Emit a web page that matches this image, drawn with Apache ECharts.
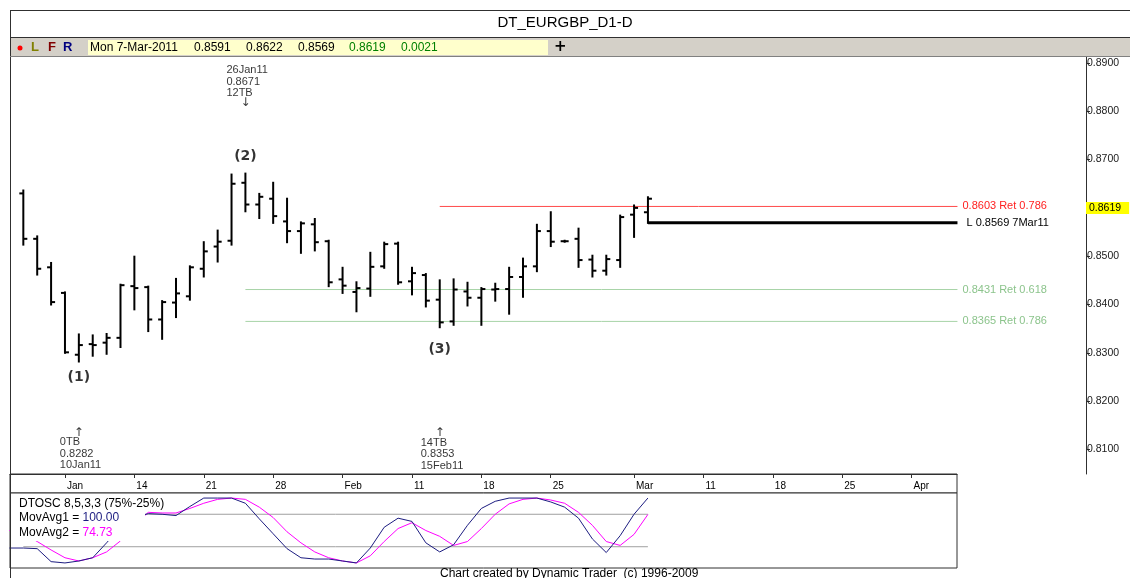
<!DOCTYPE html>
<html>
<head>
<meta charset="utf-8">
<title>DT_EURGBP_D1-D</title>
<script src="https://cdn.jsdelivr.net/npm/echarts@6/dist/echarts.min.js"></script>
<style>
html, body { margin: 0; padding: 0; background: #fff; }
#main { width: 1130px; height: 578px; }
</style>
</head>
<body>
<div id="main"></div>
<script>
// daily bars, index 0 = 4-Jan-2011 ... 45 = 7-Mar-2011
var opens  = [0.8630,0.8536,0.8477,0.8424,0.8296,0.8318,0.8321,0.8331,0.8438,0.8436,
              0.8369,0.8404,0.8417,0.8474,0.8520,0.8532,0.8652,0.8607,0.8619,0.8572,
              0.8552,0.8566,0.8531,0.8452,0.8426,0.8433,0.8479,0.8526,0.8448,0.8461,
              0.8410,0.8365,0.8427,0.8414,0.8431,0.8432,0.8457,0.8479,0.8552,0.8531,
              0.8536,0.8493,0.8470,0.8492,0.8586,0.8591];
var highs  = [0.8636,0.8541,0.8486,0.8425,0.8338,0.8336,0.8339,0.8441,0.8499,0.8437,
              0.8407,0.8453,0.8479,0.8529,0.8553,0.8669,0.8671,0.8629,0.8652,0.8619,
              0.8570,0.8577,0.8532,0.8476,0.8446,0.8507,0.8528,0.8528,0.8476,0.8463,
              0.8450,0.8452,0.8445,0.8434,0.8443,0.8476,0.8495,0.8565,0.8591,0.8532,
              0.8557,0.8501,0.8501,0.8584,0.8605,0.8622];
var lows   = [0.8524,0.8462,0.8400,0.8300,0.8282,0.8294,0.8298,0.8312,0.8390,0.8345,
              0.8329,0.8374,0.8410,0.8458,0.8489,0.8524,0.8593,0.8579,0.8569,0.8529,
              0.8507,0.8512,0.8438,0.8424,0.8386,0.8418,0.8476,0.8443,0.8421,0.8396,
              0.8353,0.8358,0.8398,0.8358,0.8408,0.8381,0.8416,0.8469,0.8521,0.8530,
              0.8478,0.8458,0.8462,0.8478,0.8540,0.8569];
var closes = [0.8536,0.8474,0.8405,0.8301,0.8316,0.8316,0.8331,0.8440,0.8434,0.8369,
              0.8405,0.8423,0.8477,0.8510,0.8530,0.8650,0.8607,0.8623,0.8583,0.8552,
              0.8568,0.8529,0.8446,0.8439,0.8434,0.8478,0.8525,0.8446,0.8465,0.8408,
              0.8363,0.8431,0.8414,0.8432,0.8432,0.8457,0.8479,0.8552,0.8530,0.8531,
              0.8492,0.8470,0.8494,0.8581,0.8600,0.8619];

// DTOSC 8,5,3,3 - from bar -1 (3-Jan) to bar 45
var movAvg1 = [23,23,22,2,0,3,8,31,55,70,76,75,73,87,100,100,100,92,68,45,
               22,8,6,6,3,0,23,55,69,64,31,17,28,58,84,95,100,100,100,94,
               86,69,37,16,42,75,100];
var movAvg2 = [50,45,33,20,8,3,8,17,34,58,78,77,77,84,92,98,100,98,86,70,
               48,31,17,8,3,0,11,33,53,62,50,41,27,33,53,75,91,98,100,97,
               92,78,58,33,27,44,74.73];
var oscBands = [75, 25];

var dateTickDays   = [3, 8, 13, 18, 23, 28, 33, 38, 44, 49, 54, 59, 64];
var dateTickLabels = ['Jan','14','21','28','Feb','11','18','25','Mar','11','18','25','Apr'];
var priceTicks = [0.81, 0.82, 0.83, 0.84, 0.85, 0.86, 0.87, 0.88, 0.89];

var levelValues = [0.8603, 0.8431, 0.8365];
var levelFrom   = [30, 16, 16];
var levelLabels = ['0.8603 Ret 0.786', '0.8431 Ret 0.618', '0.8365 Ret 0.786'];
var levelTo = 67.3;
var lastDay = 45, lastLow = 0.8569, lastClose = 0.8619;

var pivotDays  = [4, 16, 30];
var pivotNames = ['(1)', '(2)', '(3)'];
var pivotNotes = ['0TB\n0.8282\n10Jan11', '26Jan11\n0.8671\n12TB', '14TB\n0.8353\n15Feb11'];

var headerValues = ['Mon 7-Mar-2011', '0.8591', '0.8622', '0.8569', '0.8619', '0.0021'];

var FONT = 'Liberation Sans';
var chart = echarts.init(document.getElementById('main'));

var ohlc = opens.map(function (o, i) { return [i, o, highs[i], lows[i], closes[i]]; });
var oscFast = movAvg1.map(function (v, i) { return [i - 1, v]; });
var oscSlow = movAvg2.map(function (v, i) { return [i - 1, v]; });

function renderBar(params, api) {
    var x = api.value(0);
    var hi = api.coord([x, api.value(2)]);
    var lo = api.coord([x, api.value(3)]);
    var op = api.coord([x, api.value(1)]);
    var cl = api.coord([x, api.value(4)]);
    var st = { stroke: '#000', lineWidth: 2 };
    return {
        type: 'group',
        children: [
            { type: 'line', shape: { x1: hi[0], y1: hi[1] - 1, x2: lo[0], y2: lo[1] + 1 }, style: st },
            { type: 'line', shape: { x1: op[0] - 4, y1: op[1], x2: op[0], y2: op[1] }, style: st },
            { type: 'line', shape: { x1: cl[0], y1: cl[1], x2: cl[0] + 4, y2: cl[1] }, style: st }
        ]
    };
}

var levelColors = ['#ff4a4a', '#a8d4a8', '#a8d4a8'];
var levelText   = ['#ff2020', '#8cc48c', '#8cc48c'];

var series = [{
    type: 'custom',
    name: 'EURGBP',
    renderItem: renderBar,
    data: ohlc,
    encode: { x: 0, y: [1, 2, 3, 4] },
    z: 6,
    silent: true
}];

levelValues.forEach(function (v, k) {
    series.push({
        type: 'line',
        data: [[levelFrom[k], v], [levelTo, v]],
        symbol: 'none',
        silent: true,
        z: 3,
        lineStyle: { color: levelColors[k], width: 1 },
        endLabel: { show: true, formatter: levelLabels[k], color: levelText[k], fontFamily: FONT, fontSize: 11, distance: 5 }
    });
});

series.push({
    type: 'line',
    data: [[lastDay, lastLow], [levelTo, lastLow]],
    symbol: 'none',
    silent: true,
    z: 4,
    lineStyle: { color: '#000', width: 3 },
    endLabel: { show: true, formatter: 'L ' + lastLow.toFixed(4) + ' 7Mar11', color: '#000', fontFamily: FONT, fontSize: 11, distance: 9 },
    markLine: {
        symbol: 'none',
        silent: true,
        lineStyle: { color: 'rgba(255,255,255,0)', width: 1 },
        label: {
            show: true, position: 'end', distance: 0, formatter: lastClose.toFixed(4),
            backgroundColor: '#ffff00', color: '#000', fontFamily: FONT, fontSize: 10.5,
            padding: [1, 8, 0, 3]
        },
        data: [{ yAxis: lastClose }]
    }
});

var pivotData = [];
pivotDays.forEach(function (d, k) {
    var isHigh = k === 1;
    var v = isHigh ? highs[d] : lows[d];
    pivotData.push({
        value: [d, v],
        label: { formatter: pivotNames[k], color: '#000', fontWeight: 'bold', fontSize: 14, fontFamily: 'DejaVu Sans',
                 offset: [0, isHigh ? -17 : (k === 0 ? 16 : 22)] }
    });
    pivotData.push({
        value: [d, v],
        label: { formatter: isHigh ? '\u2193' : '\u2191', color: '#000', fontSize: 12, fontFamily: 'DejaVu Sans',
                 offset: [0, isHigh ? -71 : (k === 0 ? 71 : 106)] }
    });
    pivotData.push({
        value: [d, v],
        label: { formatter: pivotNotes[k], color: '#000', align: 'left', fontSize: 11, lineHeight: 11.6, fontFamily: FONT,
                 offset: [-19, isHigh ? -92 : (k === 0 ? 92 : 127)] }
    });
});
series.push({
    type: 'scatter',
    symbolSize: 0,
    silent: true,
    data: pivotData,
    label: { show: true, position: 'inside', color: '#000', verticalAlign: 'middle', textBorderWidth: 0 },
    z: 7
});

oscBands.forEach(function (b) {
    series.push({
        type: 'line', xAxisIndex: 2, yAxisIndex: 2, symbol: 'none', silent: true,
        data: [[0, b], [lastDay, b]],
        lineStyle: { color: '#a0a0a0', width: 1 }
    });
});
series.push({
    type: 'line', name: 'MovAvg2', xAxisIndex: 2, yAxisIndex: 2, symbol: 'none', silent: true,
    data: oscSlow, lineStyle: { color: '#ff00ff', width: 1 }, z: 3
});
series.push({
    type: 'line', name: 'MovAvg1', xAxisIndex: 2, yAxisIndex: 2, symbol: 'none', silent: true,
    data: oscFast, lineStyle: { color: '#1c1c80', width: 1 }, z: 4
});

var option = {
    animation: false,
    backgroundColor: '#fff',
    textStyle: { fontFamily: FONT },
    grid: [
        { left: 10, top: 57, width: 1076, height: 417 },
        { left: 10, top: 474, width: 947, height: 19, show: true, borderColor: '#303030', borderWidth: 1, backgroundColor: '#fff' },
        { left: 10, top: 493, width: 947, height: 75, show: true, borderColor: '#303030', borderWidth: 1, backgroundColor: '#fff' }
    ],
    xAxis: [
        { type: 'value', gridIndex: 0, min: -0.96, max: 76.56, show: false },
        {
            type: 'value', gridIndex: 1, min: -0.96, max: 67.27, position: 'top',
            axisLine: { show: true, onZero: false, lineStyle: { color: '#303030' } },
            axisTick: { show: true, inside: true, length: 4, customValues: dateTickDays, lineStyle: { color: '#303030' } },
            axisLabel: {
                inside: true, margin: 7, align: 'left', color: '#000', fontSize: 10, padding: [0, 0, 0, 2],
                customValues: dateTickDays,
                formatter: function (v) { return dateTickLabels[dateTickDays.indexOf(Math.round(v))] || ''; }
            },
            splitLine: { show: false }
        },
        { type: 'value', gridIndex: 2, min: -0.96, max: 67.27, show: false }
    ],
    yAxis: [
        {
            type: 'value', gridIndex: 0, position: 'right', min: 0.80491, max: 0.89124,
            axisLine: { show: true, onZero: false, lineStyle: { color: '#303030' } },
            axisTick: { show: true, length: 4, customValues: priceTicks, lineStyle: { color: '#303030' } },
            axisLabel: { margin: 1, color: '#202020', fontSize: 10.5, customValues: priceTicks,
                         formatter: function (v) { return v.toFixed(4); } },
            splitLine: { show: false }
        },
        { type: 'value', gridIndex: 1, min: 0, max: 1, show: false },
        { type: 'value', gridIndex: 2, min: -7.8, max: 107.8, show: false }
    ],
    graphic: [
        { type: 'line', shape: { x1: 10, y1: 10.5, x2: 1130, y2: 10.5 }, style: { stroke: '#303030', lineWidth: 1 }, z: 50 },
        { type: 'line', shape: { x1: 10.5, y1: 10, x2: 10.5, y2: 578 }, style: { stroke: '#303030', lineWidth: 1 }, z: 50 },
        { type: 'rect', shape: { x: 11, y: 38, width: 1119, height: 19 }, style: { fill: '#d4d0c8' }, z: 40 },
        { type: 'line', shape: { x1: 10, y1: 37.5, x2: 1130, y2: 37.5 }, style: { stroke: '#303030', lineWidth: 1 }, z: 50 },
        { type: 'line', shape: { x1: 10, y1: 56.5, x2: 1130, y2: 56.5 }, style: { stroke: '#808080', lineWidth: 1 }, z: 50 },
        { type: 'rect', shape: { x: 88, y: 40, width: 460, height: 15 }, style: { fill: '#ffffcc' }, z: 41 },
        { type: 'text', left: 'center', top: 15, style: { text: 'DT_EURGBP_D1-D', font: '15px "Liberation Sans"', fill: '#000' }, z: 50 },
        { type: 'circle', shape: { cx: 20, cy: 48, r: 2.5 }, style: { fill: '#ff0000' }, z: 50 },
        { type: 'text', x: 31, y: 41, style: { text: 'L', font: 'bold 13px "Liberation Sans"', fill: '#808000' }, z: 50 },
        { type: 'text', x: 48, y: 41, style: { text: 'F', font: 'bold 13px "Liberation Sans"', fill: '#800000' }, z: 50 },
        { type: 'text', x: 63, y: 41, style: { text: 'R', font: 'bold 13px "Liberation Sans"', fill: '#000080' }, z: 50 },
        { type: 'text', x: 90, y: 42, style: { text: headerValues[0], font: '12px "Liberation Sans"', fill: '#000' }, z: 50 },
        { type: 'text', x: 194, y: 42, style: { text: headerValues[1], font: '12px "Liberation Sans"', fill: '#000' }, z: 50 },
        { type: 'text', x: 246, y: 42, style: { text: headerValues[2], font: '12px "Liberation Sans"', fill: '#000' }, z: 50 },
        { type: 'text', x: 298, y: 42, style: { text: headerValues[3], font: '12px "Liberation Sans"', fill: '#000' }, z: 50 },
        { type: 'text', x: 349, y: 42, style: { text: headerValues[4], font: '12px "Liberation Sans"', fill: '#008000' }, z: 50 },
        { type: 'text', x: 401, y: 42, style: { text: headerValues[5], font: '12px "Liberation Sans"', fill: '#008000' }, z: 50 },
        { type: 'text', x: 554, y: 40, style: { text: '+', font: 'bold 15px "DejaVu Sans"', fill: '#000' }, z: 50 },
        { type: 'rect', shape: { x: 11, y: 494, width: 166, height: 16 }, style: { fill: '#fff' }, z: 60 },
        { type: 'rect', shape: { x: 11, y: 510, width: 134, height: 31 }, style: { fill: '#fff' }, z: 60 },
        {
            type: 'text', x: 19, y: 496, z: 61,
            style: {
                text: 'DTOSC 8,5,3,3 (75%-25%)\nMovAvg1 = {a|100.00}\nMovAvg2 = {b|74.73}',
                font: '12px "Liberation Sans"', fill: '#000', lineHeight: 14.5,
                rich: {
                    a: { fill: '#1c1c80', font: '12px "Liberation Sans"' },
                    b: { fill: '#ff00ff', font: '12px "Liberation Sans"' }
                }
            }
        },
        { type: 'text', left: 440, top: 568, style: { text: 'Chart created by Dynamic Trader  (c) 1996-2009', font: '12px "Liberation Sans"', fill: '#000' }, z: 50 }
    ],
    series: series
};

chart.setOption(option);
</script>
</body>
</html>
